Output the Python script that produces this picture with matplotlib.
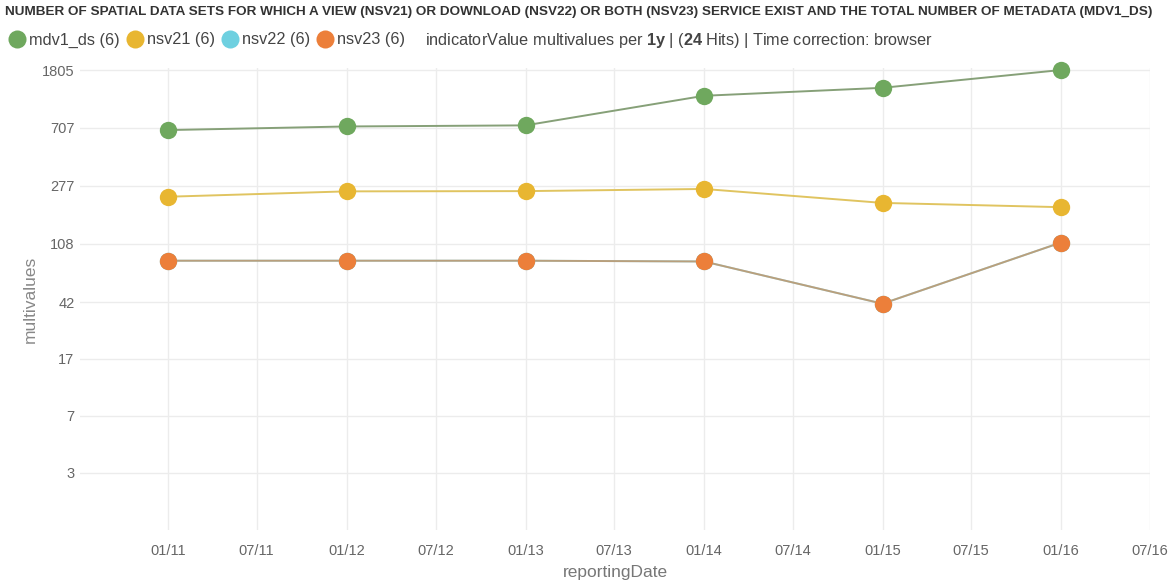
import numpy as np
import pandas as pd
import matplotlib
matplotlib.use("Agg")
import matplotlib.pyplot as plt
import matplotlib.dates as mdates
from matplotlib.lines import Line2D

plt.rcParams['font.family'] = ['Liberation Sans', 'DejaVu Sans']
plt.rcParams['mathtext.fontset'] = 'custom'
plt.rcParams['mathtext.rm'] = 'Liberation Sans'
plt.rcParams['mathtext.bf'] = 'Liberation Sans:bold'

# data
dates = pd.to_datetime(['2011-01-01', '2012-01-01', '2013-01-01',
                        '2014-01-01', '2015-01-01', '2016-01-01'])
mdv1_ds = [681, 722, 735, 1188, 1352, 1805]
nsv21 = [231, 252, 253, 262, 209, 195]
nsv22 = [82, 82, 82, 81, 41, 110]
nsv23 = [82, 82, 82, 81, 41, 110]

series_names = ['mdv1_ds (6)', 'nsv21 (6)', 'nsv22 (6)', 'nsv23 (6)']
series_colors = ['#6fa85e', '#e8b631', '#6ed0e0', '#ec7f3a']
line_colors = ['#86a078', '#e0c460', '#6ed0e0', '#ec7f3a']

ytick_vals = [3, 7, 17, 42, 108, 277, 707, 1805]
xtick_dates = pd.date_range('2011-01-01', '2016-07-01', freq='6MS')

title = ("NUMBER OF SPATIAL DATA SETS FOR WHICH A VIEW (NSV21) OR DOWNLOAD (NSV22) "
         "OR BOTH (NSV23) SERVICE EXIST AND THE TOTAL NUMBER OF METADATA (MDV1_DS)")
info = r"indicatorValue multivalues per $\mathbf{1y}$ | ($\mathbf{24}$ Hits) | Time correction: browser"

# flot-like log transform
def fwd(v):
    return np.log(np.maximum(np.asarray(v, dtype=float) - 0.4, 1e-6))

def inv(u):
    return np.exp(u) + 0.4

fig = plt.figure(figsize=(11.73, 5.88), dpi=100)
ax = fig.add_axes([80 / 1173, 1 - 530 / 588, 1070 / 1173, 462 / 588])

ax.set_yscale('function', functions=(fwd, inv))

all_series = [mdv1_ds, nsv21, nsv22, nsv23]
alphas = [1.0, 1.0, 1.0, 0.6]
for vals, lc, a in zip(all_series, line_colors, alphas):
    ax.plot(dates, vals, color=lc, lw=1.4, alpha=a, zorder=2)
for vals, mc in zip(all_series, series_colors):
    ax.plot(dates, vals, ls='none', marker='o', ms=12.5, color=mc,
            markeredgewidth=0, zorder=3, clip_on=False)

ax.set_ylim(1.43, 1865)
ax.set_xlim(pd.Timestamp('2010-07-05'), pd.Timestamp('2016-07-01'))

ax.set_yticks(ytick_vals)
ax.set_yticklabels([str(v) for v in ytick_vals])
ax.yaxis.set_minor_locator(plt.NullLocator())
ax.set_xticks(xtick_dates)
ax.xaxis.set_major_formatter(mdates.DateFormatter('%m/%y'))

ax.grid(True, color='#ececec', lw=1)
ax.set_axisbelow(True)
for s in ax.spines.values():
    s.set_visible(False)
ax.tick_params(length=0, labelsize=10.5, labelcolor='#666666')
ax.tick_params(axis='x', pad=10)
ax.tick_params(axis='y', pad=4)

ax.set_xlabel('reportingDate', fontsize=12.5, color='#777777', labelpad=5)
ax.set_ylabel('multivalues', fontsize=12.5, color='#888888', labelpad=3)

fig.text(5 / 1173, 1 - 12 / 588, title, fontsize=9.7, fontweight='bold',
         color='#333333', va='center', ha='left')

handles = [Line2D([], [], ls='none', marker='o', ms=13, color=c, markeredgewidth=0)
           for c in series_colors]
fig.legend(handles, series_names, loc='center left',
           bbox_to_anchor=(10 / 1173, 1 - 40 / 588), ncol=4, frameon=False,
           fontsize=11.7, handlelength=0.9, handletextpad=0.3,
           columnspacing=0.45, borderaxespad=0, borderpad=0,
           labelcolor='#444444')

fig.text(425 / 1173, 1 - 40 / 588, info, fontsize=11.7,
         color='#444444', va='center', ha='left')

fig.savefig('out.png', dpi=100)
